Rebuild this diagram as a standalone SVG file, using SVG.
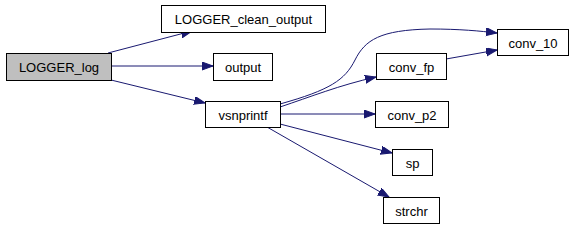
<svg xmlns="http://www.w3.org/2000/svg" width="575" height="226" viewBox="0 0 575 226">
<style>
.n rect{fill:#fff;stroke:#000;stroke-width:1}
.n text{font-family:"Liberation Sans",Arial,sans-serif;font-size:13px;text-anchor:middle;fill:#000}
#edges path{fill:none;stroke:#191970;stroke-width:1}
</style>
<defs>
<marker id="a" markerUnits="userSpaceOnUse" markerWidth="12" markerHeight="10" refX="11" refY="4" orient="auto">
<path d="M0,0 L11,4 L0,8 Z" fill="#191970" stroke="#191970"/>
</marker>
</defs>
<rect width="575" height="226" fill="#fff"/>
<g id="edges">
<path d="M108,53 L192,31" marker-end="url(#a)"/>
<path d="M111,66 L213,66" marker-end="url(#a)"/>
<path d="M111,80 L205,103" marker-end="url(#a)"/>
<path d="M280,104 C330,90 345,80 355,60 C365,40 380,30 430,29 C460,29 480,31 497,33" marker-end="url(#a)"/>
<path d="M280,107 C310,97 340,85 376,77" marker-end="url(#a)"/>
<path d="M446,59 L497,50" marker-end="url(#a)"/>
<path d="M280,114 L375,114" marker-end="url(#a)"/>
<path d="M280,124 L392,153" marker-end="url(#a)"/>
<path d="M267,127 L389,197" marker-end="url(#a)"/>
</g>
<g id="LOGGER_log" class="n"><rect x="6.5" y="53.5" width="105" height="27" style="fill:#bfbfbf"/><text x="59" y="72">LOGGER_log</text></g>
<g id="LOGGER_clean_output" class="n"><rect x="161.5" y="5.5" width="164" height="27"/><text x="243.5" y="24">LOGGER_clean_output</text></g>
<g id="output" class="n"><rect x="213.5" y="53.5" width="59" height="27"/><text x="243" y="72">output</text></g>
<g id="vsnprintf" class="n"><rect x="205.5" y="101.5" width="75" height="26"/><text x="243" y="120">vsnprintf</text></g>
<g id="conv_fp" class="n"><rect x="376.5" y="53.5" width="70" height="26"/><text x="411.5" y="72">conv_fp</text></g>
<g id="conv_10" class="n"><rect x="497.5" y="29.5" width="71" height="26"/><text x="533" y="48">conv_10</text></g>
<g id="conv_p2" class="n"><rect x="375.5" y="101.5" width="73" height="26"/><text x="412" y="120">conv_p2</text></g>
<g id="sp" class="n"><rect x="392.5" y="149.5" width="40" height="26"/><text x="412.5" y="168">sp</text></g>
<g id="strchr" class="n"><rect x="383.5" y="197.5" width="56" height="26"/><text x="411.5" y="216">strchr</text></g>
</svg>
